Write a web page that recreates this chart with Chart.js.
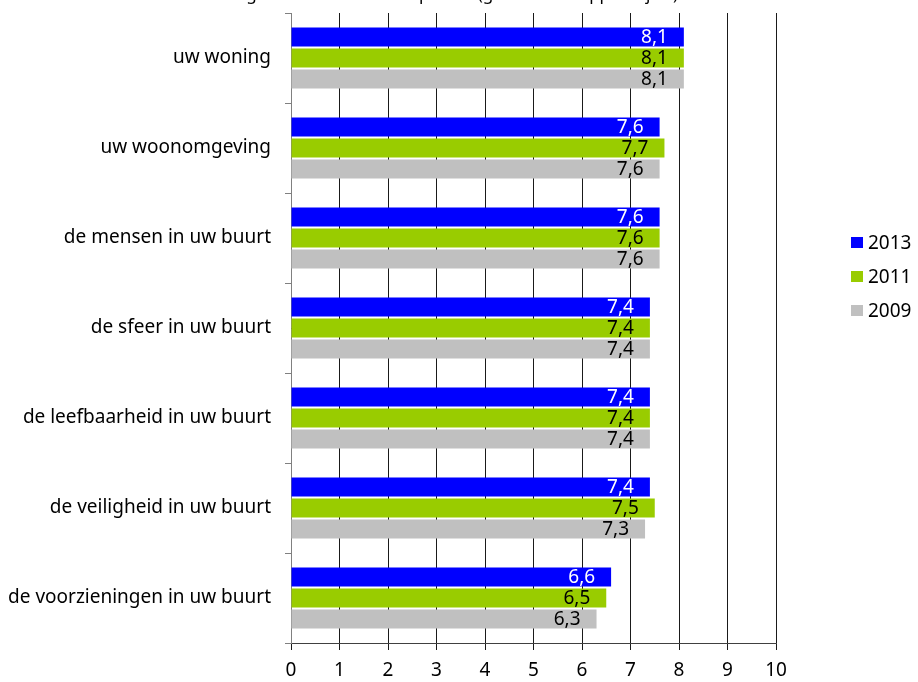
<!DOCTYPE html>
<html>
<head>
<meta charset="utf-8">
<script src="https://cdn.jsdelivr.net/npm/chart.js@4.4.0/dist/chart.umd.min.js"></script>
<style>
  html, body { margin: 0; padding: 0; background: #fff; }
  #wrap { width: 918px; height: 682px; }
</style>
</head>
<body>
<div id="wrap"><canvas id="barChart" width="918" height="682"></canvas></div>
<script>
const titel = "Waardering van huis en buurtaspecten (gemiddeld rapportcijfer)";
const categorieen = [
  "uw woning",
  "uw woonomgeving",
  "de mensen in uw buurt",
  "de sfeer in uw buurt",
  "de leefbaarheid in uw buurt",
  "de veiligheid in uw buurt",
  "de voorzieningen in uw buurt",
];
const jaren = ["2013", "2011", "2009"];
const cijfers2013 = [8.1, 7.6, 7.6, 7.4, 7.4, 7.4, 6.6];
const cijfers2011 = [8.1, 7.7, 7.6, 7.4, 7.4, 7.5, 6.5];
const cijfers2009 = [8.1, 7.6, 7.6, 7.4, 7.4, 7.3, 6.3];
const xTicks = [0, 1, 2, 3, 4, 5, 6, 7, 8, 9, 10];

const kleuren = ["#0000ff", "#99cc00", "#c0c0c0"];
const labelKleuren = ["#ffffff", "#000000", "#000000"];
const lettertype = "'Noto Sans', sans-serif";

// waarden aan het eind van de balk, met komma
const waardeLabels = {
  id: "waardeLabels",
  afterDatasetsDraw(chart) {
    const ctx = chart.ctx;
    ctx.save();
    ctx.font = "19px " + lettertype;
    ctx.textAlign = "right";
    ctx.textBaseline = "middle";
    chart.data.datasets.forEach((ds, i) => {
      chart.getDatasetMeta(i).data.forEach((bar, j) => {
        ctx.fillStyle = labelKleuren[i];
        ctx.fillText(ds.data[j].toFixed(1).replace(".", ","), bar.x - 16, bar.y + 1);
      });
    });
    ctx.restore();
  },
};

// legenda rechts, verticaal
const legenda = {
  id: "legenda",
  afterDraw(chart) {
    const ctx = chart.ctx;
    ctx.save();
    ctx.font = "19px " + lettertype;
    ctx.textBaseline = "alphabetic";
    ctx.textAlign = "left";
    chart.data.datasets.forEach((ds, i) => {
      const y = 237 + i * 34;
      ctx.fillStyle = ds.backgroundColor;
      ctx.fillRect(851, y, 12, 11);
      ctx.fillStyle = "#000";
      ctx.fillText(ds.label, 868, y + 12);
    });
    ctx.restore();
  },
};

// titel valt grotendeels buiten beeld
const titelPlugin = {
  id: "titelPlugin",
  afterDraw(chart) {
    const ctx = chart.ctx;
    ctx.save();
    ctx.font = "17px " + lettertype;
    ctx.textAlign = "right";
    ctx.textBaseline = "alphabetic";
    ctx.fillStyle = "#000";
    ctx.fillText(titel, 678, 0);
    ctx.restore();
  },
};

const dados = {
  labels: categorieen,
  datasets: [
    { label: jaren[0], data: cijfers2013, backgroundColor: kleuren[0] },
    { label: jaren[1], data: cijfers2011, backgroundColor: kleuren[1] },
    { label: jaren[2], data: cijfers2009, backgroundColor: kleuren[2] },
  ],
};

const config = {
  type: "bar",
  data: dados,
  options: {
    indexAxis: "y",
    responsive: false,
    animation: false,
    categoryPercentage: 0.7,
    barPercentage: 0.9,
    layout: { padding: { top: 13, right: 142, bottom: 0, left: 0 } },
    plugins: {
      legend: { display: false },
      tooltip: { enabled: false },
    },
    scales: {
      x: {
        min: 0,
        max: 10,
        afterBuildTicks: (s) => { s.ticks = xTicks.map((v) => ({ value: v })); },
        afterFit: (s) => { s.height = 39; },
        grid: { color: "#1a1a1a", tickLength: 7, drawTicks: true },
        border: { color: "#404040" },
        ticks: {
          color: "#000",
          padding: 9,
          font: { family: lettertype, size: 19 },
          callback: (v) => String(v),
        },
      },
      y: {
        afterFit: (s) => {
          s.width = 291;
          s.paddingTop = 0;
          s.paddingBottom = 0;
        },
        grid: { drawOnChartArea: false, offset: true, tickLength: 6, color: "#808080" },
        border: { color: "#808080" },
        ticks: {
          color: "#000",
          padding: 14,
          font: { family: lettertype, size: 19 },
        },
      },
    },
  },
  plugins: [waardeLabels, legenda, titelPlugin],
};

const ctx = document.getElementById("barChart").getContext("2d");
const myChart = new Chart(ctx, config);
</script>
</body>
</html>
